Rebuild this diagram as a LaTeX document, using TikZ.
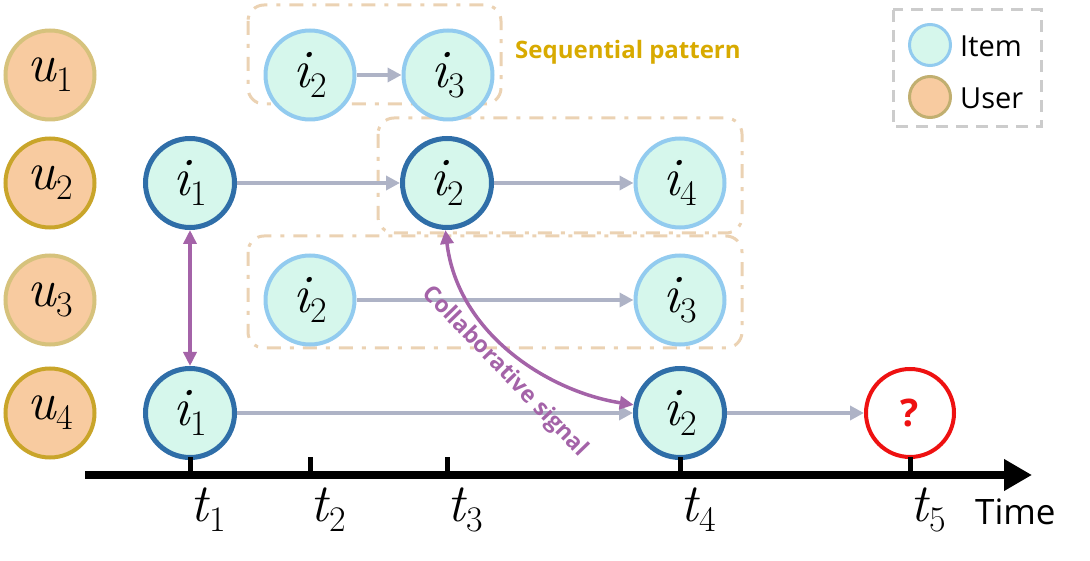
\documentclass[tikz,border=0pt]{standalone}
\usepackage{fontspec}
\setsansfont{Open Sans}
\usetikzlibrary{arrows.meta}
\newcommand{\nlab}[2]{{\fontsize{54}{54}\selectfont\itshape #1}\kern1pt\raisebox{-10pt}{\fontsize{36}{36}\selectfont #2}}
\newcommand{\tlab}[1]{{\fontsize{54}{54}\selectfont\itshape t}\kern1pt\raisebox{-10pt}{\fontsize{36}{36}\selectfont #1}}
\definecolor{userfill}{HTML}{F8CBA0}
\definecolor{userlineA}{HTML}{D6C27C}
\definecolor{userlineB}{HTML}{C9A52A}
\definecolor{itemfill}{HTML}{D6F7EC}
\definecolor{itemlight}{HTML}{92CBEF}
\definecolor{itemdark}{HTML}{2F6EA8}
\definecolor{flow}{HTML}{AEB3C6}
\definecolor{collab}{HTML}{A463A8}
\definecolor{patbox}{HTML}{EBD2B3}
\definecolor{seqtext}{HTML}{D8AA00}
\definecolor{legline}{HTML}{CCCCCC}
\definecolor{qred}{HTML}{EE1111}
\tikzset{
  user/.style={circle, draw=userlineA, fill=userfill, line width=4pt, minimum size=89pt, inner sep=0pt},
  userdark/.style={user, draw=userlineB},
  item/.style={circle, draw=itemlight, fill=itemfill, line width=4pt, minimum size=89pt, inner sep=0pt},
  itemdk/.style={item, draw=itemdark, line width=5pt},
  query/.style={circle, draw=qred, fill=white, line width=4pt, minimum size=88pt, inner sep=0pt, text=qred, font=\sffamily\bfseries\fontsize{38}{38}\selectfont},
  flowarrow/.style={draw=flow, line width=3.5pt, -{Triangle[length=14pt,width=14pt]}},
  collabarrow/.style={draw=collab, line width=3.5pt, {Triangle[length=14pt,width=13pt]}-{Triangle[length=14pt,width=13pt]}},
  patternbox/.style={draw=patbox, line width=3pt, rounded corners=16pt, dash pattern=on 14pt off 9pt on 4pt off 9pt},
  legendbox/.style={draw=legline, line width=3pt, dash pattern=on 12pt off 8pt},
  legitem/.style={circle, draw=itemlight, fill=itemfill, line width=3pt, minimum size=41pt, inner sep=0pt},
  leguser/.style={circle, draw=userlineA!90!black, fill=userfill, line width=3pt, minimum size=41pt, inner sep=0pt},
  legtext/.style={anchor=west, font=\sffamily\fontsize{29}{29}\selectfont, inner sep=0pt},
  tick/.style={line width=5pt},
  tlabel/.style={inner sep=0pt, anchor=north}
}
\begin{document}
\begin{tikzpicture}[x=1pt,y=-1pt]
\useasboundingbox (0,0) rectangle (1090,561);
% pattern boxes
\draw[patternbox] (248,5) rectangle (501,104);
\draw[patternbox] (378,118) rectangle (742,233);
\draw[patternbox] (248,236) rectangle (742,348);
\node[anchor=west, text=seqtext, font=\sffamily\bfseries\fontsize{24}{24}\selectfont, inner sep=0pt] (seq) at (515,52) {Sequential pattern};
% legend
\draw[legendbox] (893,10) rectangle (1041,127);
\node[legitem] (li) at (930,45) {};
\node[leguser] (lu) at (930,97) {};
\node[legtext] (lit) at (960,46) {Item};
\node[legtext] (lut) at (960,98) {User};
% users
\node[user] (u1) at (50,75) {\nlab{u}{1}};
\node[userdark] (u2) at (50,183) {\nlab{u}{2}};
\node[user] (u3) at (50,300) {\nlab{u}{3}};
\node[userdark] (u4) at (50,413) {\nlab{u}{4}};
% items
\node[item] (r1a) at (310,75) {\nlab{i}{2}};
\node[item] (r1b) at (448,75) {\nlab{i}{3}};
\node[itemdk] (r2a) at (190,183) {\nlab{i}{1}};
\node[itemdk] (r2b) at (447,183) {\nlab{i}{2}};
\node[item] (r2c) at (680,183) {\nlab{i}{4}};
\node[item] (r3a) at (310,300) {\nlab{i}{2}};
\node[item] (r3b) at (680,300) {\nlab{i}{3}};
\node[itemdk] (r4a) at (190,413) {\nlab{i}{1}};
\node[itemdk] (r4b) at (680,413) {\nlab{i}{2}};
\node[query] (q) at (910,413) {?};
% flow arrows
\draw[flowarrow] (r1a) -- (r1b);
\draw[flowarrow] (r2a) -- (r2b);
\draw[flowarrow] (r2b) -- (r2c);
\draw[flowarrow] (r3a) -- (r3b);
\draw[flowarrow] (r4a) -- (r4b);
\draw[flowarrow] (r4b) -- (q);
% collaborative
\draw[collabarrow] (r2a) -- (r4a);
\draw[collabarrow] (r2b.-92) .. controls (458,335) and (550,392) .. (r4b.170);
\node[text=collab, font=\sffamily\bfseries\fontsize{23}{23}\selectfont, rotate=-46, inner sep=0pt] (cs) at (505,372) {Collaborative signal};
% time axis
\coordinate (ax0) at (85,475);
\coordinate (ax1) at (1032,475);
\draw[line width=8pt, -{Triangle[length=28pt,width=30pt]}] (ax0) -- (ax1);
\foreach \x/\n in {190/1,310/2,447/3,680/4,910/5}{
  \coordinate (tk\n) at (\x,475);
  \draw[tick] (tk\n) -- ++(0,-18);
  \node[tlabel] (tl\n) at (\x+18,488) {\tlab{\n}};
}
\node[anchor=west, font=\sffamily\fontsize{35}{35}\selectfont, inner sep=0pt] (time) at (975,512) {Time};
\end{tikzpicture}
\end{document}
